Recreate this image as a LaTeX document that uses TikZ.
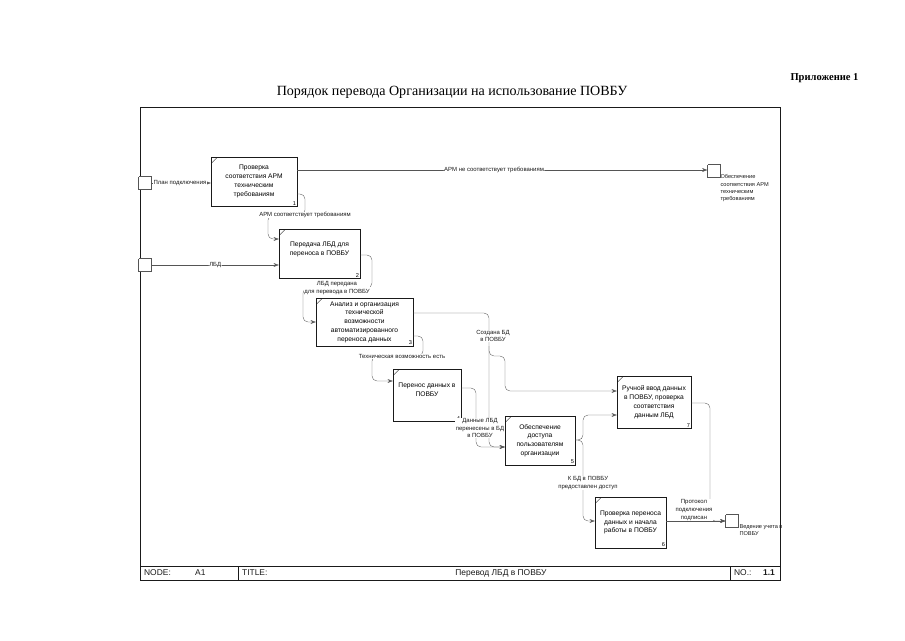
\documentclass[tikz,border=0pt]{standalone}
\usepackage{fontspec}
\setmainfont{Liberation Sans}
\newfontfamily\serifru{Liberation Serif}
\usetikzlibrary{arrows.meta,calc}
\definecolor{ink}{HTML}{1A1A1A}
\definecolor{wire}{HTML}{555555}
\tikzset{
  x=0.5mm, y=-0.5mm,
  >={Stealth[length=2.6mm,width=1.9mm]},
  act/.style={draw=ink, line width=0.6pt, align=center, inner sep=1pt,
              font=\fontsize{9.5}{12.5}\selectfont},
  flow/.style={->, draw=wire, line width=0.5pt, rounded corners=2.5mm},
  lbl/.style={font=\fontsize{8.5}{11}\selectfont, fill=white, inner sep=0.6pt,
              align=center, text=ink},
  side/.style={font=\fontsize{8}{10.5}\selectfont, anchor=north west, align=left,
               inner sep=0.5pt, text=ink},
  tunnel/.style={draw=wire, densely dotted, fill=white, minimum size=6.5mm, inner sep=0pt},
  num/.style={font=\fontsize{8}{8}\selectfont, anchor=south east, inner sep=1.5pt},
  bar/.style={font=\fontsize{12}{12}\selectfont, anchor=west, inner sep=0pt, text=ink},
}

\begin{document}
\begin{tikzpicture}
\useasboundingbox (0,0) rectangle (905,640);

% --- heading ---------------------------------------------------------------------------
\node[font=\serifru\bfseries\fontsize{15}{15}\selectfont, anchor=east] (app) at (861,78) {Приложение 1};
\node[font=\serifru\fontsize{20}{20}\selectfont] (head) at (452,92)
  {Порядок перевода Организации на использование ПОВБУ};

% --- frame and title bar ---------------------------------------------------------------
\draw[ink, line width=0.8pt] (140,107) rectangle (780,580);
\draw[ink, line width=0.6pt] (140,566) -- (780,566);
\draw[ink, line width=0.6pt] (238,566) -- (238,580);
\draw[ink, line width=0.6pt] (730,566) -- (730,580);
\node[bar] (node) at (144,573) {NODE:};
\node[bar] (nodeid) at (195,573) {A1};
\node[bar] (ttl) at (242,573) {TITLE:};
\node[bar, anchor=center] (ttltext) at (501,573) {Перевод ЛБД в ПОВБУ};
\node[bar] (no) at (734,573) {NO.:};
\node[bar, font=\bfseries\fontsize{12}{12}\selectfont] (nonum) at (763,573) {1.1};

% --- activities ------------------------------------------------------------------------
\node[act, minimum width=43mm, minimum height=24.5mm] (b1) at (254,181.5)
  {Проверка\\соответствия АРМ\\техническим\\требованиям};
\node[act, minimum width=40.5mm, minimum height=24.5mm, text depth=5mm] (b2) at (319.5,253.5)
  {Передача ЛБД для\\переноса в ПОВБУ};
\node[act, minimum width=48.5mm, minimum height=24mm] (b3) at (364.5,322)
  {Анализ и организация\\технической\\возможности\\автоматизированного\\переноса данных};
\node[act, minimum width=34mm, minimum height=26mm, text depth=5mm] (b4) at (427,395)
  {Перенос данных в\\ПОВБУ};
\node[act, minimum width=35mm, minimum height=24.5mm] (b5) at (540,440.5)
  {Обеспечение\\доступа\\пользователям\\организации};
\node[act, minimum width=37mm, minimum height=26mm] (b7) at (654,402)
  {Ручной ввод данных\\в ПОВБУ, проверка\\соответствия\\данным ЛБД};
\node[act, minimum width=35.5mm, minimum height=25.5mm] (b6) at (630.5,522.5)
  {Проверка переноса\\данных и начала\\работы в ПОВБУ};

\foreach \b/\n in {b1/1,b2/2,b3/3,b4/4,b5/5,b7/7,b6/6}{
  \draw[ink, line width=1.4pt] (\b.north east) -- (\b.south east) -- (\b.south west);
  \draw[ink, line width=0.4pt] ([shift={(1,6)}]\b.north west) -- ([shift={(6,1)}]\b.north west);
  \node[num] (n\n) at (\b.south east) {\n};
}

% --- tunnels ---------------------------------------------------------------------------
\node[tunnel] (t1) at (145,183) {};
\node[tunnel] (t2) at (145,265) {};
\node[tunnel] (rb1) at (714,171) {};
\node[tunnel] (rb2) at (732,521) {};

% --- arrows ----------------------------------------------------------------------------
\draw[flow] (t1.east) -- (b1.west |- t1.east);
\node[lbl, anchor=west] (l1) at (153,183) {План подключения};
\draw[flow] (t2.east) -- node[lbl, pos=0.5] (l2) {ЛБД} (b2.west |- t2.east);

\draw[flow] (b1.east |- 0,170) -- node[lbl, pos=0.48] (l3) {АРМ не соответствует требованиям} (rb1.west |- 0,170);
\node[side] (l3b) at (720,174) {Обеспечение\\соответствия АРМ\\техническим\\требованиям};

\draw[flow] (b1.east |- 0,194) -- (305,194) -- (305,215) -- (268,215) -- (268,239) -- (b2.west |- 0,239);
\node[lbl] (l4) at (305,215) {АРМ соответствует требованиям};

\draw[flow] (b2.east |- 0,255) -- (372,255) -- (372,288) -- (303,288) -- (303,322) -- (b3.west |- 0,322);
\node[lbl] (l5) at (337,288) {ЛБД передана\\для перевода в ПОВБУ};

\draw[flow] (b3.east |- 0,336) -- (423,336) -- (423,356) -- (372,356) -- (372,381) -- (b4.west |- 0,381);
\node[lbl] (l6) at (402,356) {Техническая возможность есть};

\draw[flow] (b3.east |- 0,313) -- (489,313) -- (489,447) -- (b5.west |- 0,447);
\draw[flow] (489,346) -- (489,356) -- (505,356) -- (505,391) -- (b7.west |- 0,391);
\node[lbl] (l7) at (493,336) {Создана БД\\в ПОВБУ};

\draw[flow] (b4.east |- 0,388) -- (476,388) -- (476,447) -- (b5.west |- 0,447);
\node[lbl] (l8) at (480,428) {Данные ЛБД\\перенесены в БД\\в ПОВБУ};

\draw[flow] (b5.east |- 0,440) -- (583,440) -- (583,415) -- (b7.west |- 0,415);
\draw[flow] (b5.east |- 0,440) -- (583,440) -- (583,521) -- (b6.west |- 0,521);
\node[lbl] (l9) at (588,483) {К БД в ПОВБУ\\предоставлен доступ};

\draw[flow] (b7.east |- 0,403) -- (710,403) -- (710,521) -- (rb2.west |- 0,521);
\draw[flow] (b6.east |- 0,521) -- (rb2.west |- 0,521);
\node[lbl] (l10) at (694,510) {Протокол\\подключения\\подписан};
\node[side] (l11) at (739,524) {Ведение учета в\\ПОВБУ};

\end{tikzpicture}
\end{document}
